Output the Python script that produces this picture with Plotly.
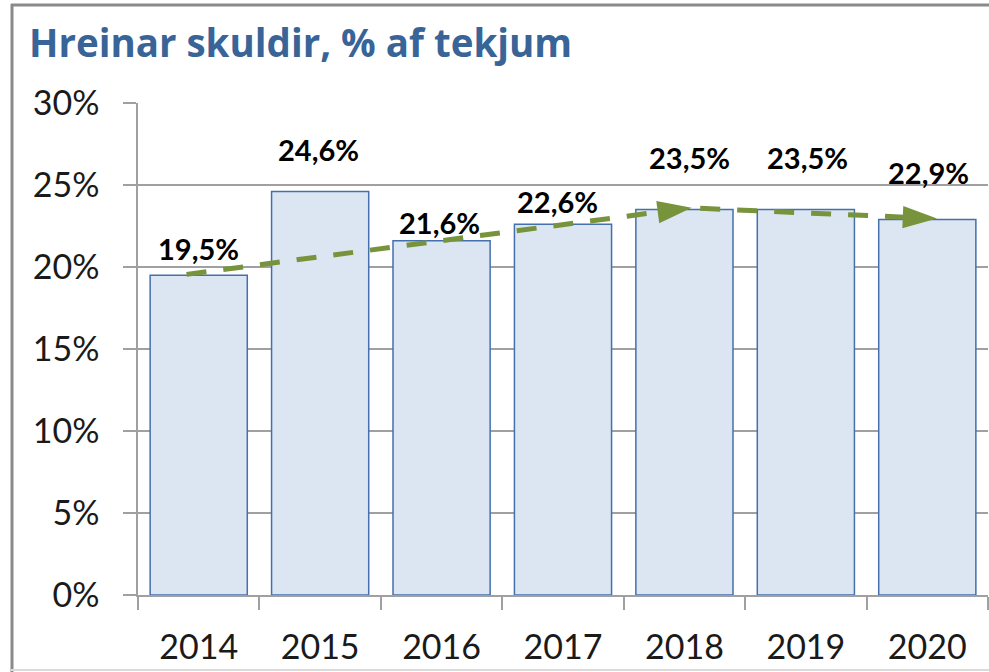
import plotly.graph_objects as go

# ---- data ----
years = ["2014", "2015", "2016", "2017", "2018", "2019", "2020"]
values = [19.5, 24.6, 21.6, 22.6, 23.5, 23.5, 22.9]
value_labels = ["19,5%", "24,6%", "21,6%", "22,6%", "23,5%", "23,5%", "22,9%"]
y_tickvals = [0, 5, 10, 15, 20, 25, 30]
y_ticktext = ["0%", "5%", "10%", "15%", "20%", "25%", "30%"]
# trend arrows (category index on x, percent on y)
trend1_x = [-0.1, 4.06]
trend1_y = [19.55, 23.62]
trend2_x = [4.13, 6.08]
trend2_y = [23.58, 22.95]

# ---- style ----
label_shift_px = [27, 42, 18, 23, 52, 52, 47]
label_xshift_px = [0, -2, -2, -6, 5, 2, 1]
W, H = 989, 672
L, R, T, B = 138, 1, 103, 77
pw, ph = W - L - R, H - T - B
def px(x): return (x - L) / pw
def py(y): return (H - B - y) / ph

grid = "#A0A0A0"
bar_fill = "#DCE6F2"
bar_line = "#4470AD"
green = "#77933C"
font_fam = "Lato"

xpos = list(range(len(years)))
boundaries = [i - 0.5 for i in range(len(years) + 1)]

fig = go.Figure()
fig.add_trace(go.Bar(
    x=xpos, y=values, marker=dict(color=bar_fill, line=dict(color=bar_line, width=1.5)),
    width=0.8, hoverinfo="skip", showlegend=False,
))
for tx, ty in [(trend1_x, trend1_y), (trend2_x, trend2_y)]:
    fig.add_trace(go.Scatter(
        x=tx, y=ty, mode="lines+markers",
        line=dict(color=green, width=5, dash="20px,17px"),
        marker=dict(symbol="arrow", size=[0, 36], color=green, opacity=1,
                    angleref="previous", line=dict(width=0)),
        hoverinfo="skip", showlegend=False,
    ))

for i, (v, t) in enumerate(zip(values, value_labels)):
    fig.add_annotation(x=xpos[i], y=v, text=t, showarrow=False, yshift=label_shift_px[i],
                       xshift=label_xshift_px[i],
                       font=dict(family=font_fam, size=29, color="black", weight="bold"))

# frame
fig.add_shape(type="line", xref="paper", yref="paper", x0=px(12), x1=px(12), y0=py(4), y1=py(672),
              line=dict(color="#8A8A8A", width=3), layer="above")
fig.add_shape(type="line", xref="paper", yref="paper", x0=px(11), x1=px(1000), y0=py(5), y1=py(5),
              line=dict(color="#8A8A8A", width=3), layer="above")
fig.add_shape(type="line", xref="paper", yref="paper", x0=px(11), x1=px(1000), y0=py(670), y1=py(670),
              line=dict(color="#DADADA", width=2), layer="above")

fig.update_layout(
    width=W, height=H,
    margin=dict(l=L, r=R, t=T, b=B),
    paper_bgcolor="white", plot_bgcolor="white",
    title=dict(text="Hreinar skuldir, % af tekjum", x=29 / W, xanchor="left",
               y=1 - 44 / H, yanchor="middle",
               font=dict(family="Open Sans", size=38.5, color="#386497", weight="bold")),
    xaxis=dict(range=[-0.5, len(years) - 0.5], tickvals=xpos, ticktext=years, ticks="",
               minor=dict(tickvals=boundaries, ticks="outside", ticklen=13, tickwidth=1.5,
                          tickcolor=grid, showgrid=False),
               showline=True, linecolor=grid, linewidth=1.5, showgrid=False, zeroline=False,
               tickfont=dict(family=font_fam, size=34, color="#1a1a1a"),
               ticklabelstandoff=21, fixedrange=True),
    yaxis=dict(range=[0, 30], tickvals=y_tickvals, ticktext=y_ticktext, showgrid=True,
               gridcolor=grid, gridwidth=1.5, ticks="outside", ticklen=13, tickwidth=1.5,
               tickcolor=grid, showline=True, linecolor=grid, linewidth=1.5, zeroline=False,
               tickfont=dict(family=font_fam, size=34, color="#1a1a1a"),
               ticklabelstandoff=17, fixedrange=True),
    bargap=0.2,
)
fig.write_html("out.html", config={"displayModeBar": False},
               post_script="document.body.style.margin='0px';document.body.style.padding='0px';")
